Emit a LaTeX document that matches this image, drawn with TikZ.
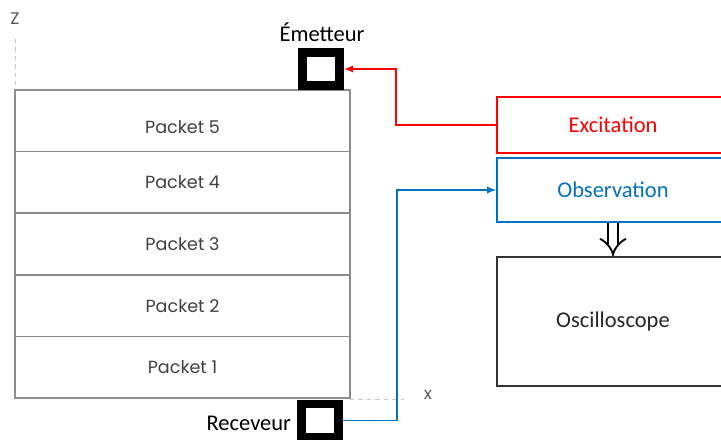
\documentclass[tikz,border=0pt]{standalone}
\usepackage{fontspec}
\setmainfont{Carlito}
\newfontfamily\gothic{Poppins}
\usetikzlibrary{arrows, positioning}
\definecolor{exred}{RGB}{255,0,0}
\definecolor{obsblue}{RGB}{0,112,192}
\definecolor{packgrey}{RGB}{140,140,140}
\tikzset{
  packet/.style={draw=packgrey, line width=1pt, minimum width=8.375cm, minimum height=1.54cm, inner sep=0, font=\gothic\fontsize{12.5}{15}\selectfont, text=black!75},
  probe/.style={draw=black, line width=6.4pt, minimum width=0.925cm, minimum height=0.825cm, inner sep=0},
  unit/.style={line width=1.2pt, minimum width=5.8cm, font=\fontsize{16}{19}\selectfont},
  axislab/.style={text=black!65, font=\gothic\fontsize{12}{14}\selectfont}
}

\begin{document}
\begin{tikzpicture}
\useasboundingbox (0,0) rectangle (18.025,10.975);

% axes
\draw[packgrey!50, dashed] (0.375,10.0) -- (0.375,8.725);
\draw[packgrey!50, dashed] (8.75,1.0) -- (10.1,1.0);
\node[axislab] (zlab) at (0.375,10.5) {Z};
\node[axislab] (xlab) at (10.7,1.1) {x};

% stack of packets
\node[packet] (p1) at (4.5625,1.795) {Packet 1};
\node[packet] (p2) at (4.5625,3.335) {Packet 2};
\node[packet] (p3) at (4.5625,4.875) {Packet 3};
\node[packet] (p4) at (4.5625,6.415) {Packet 4};
\node[packet, text height=0.62cm] (p5) at (4.5625,7.955) {Packet 5};

% transducers
\node[probe] (emit) at (8.025,9.25) {};
\node[font=\fontsize{16}{19}\selectfont] (emitlab) at (8.05,10.175) {Émetteur};
\node[probe] (recv) at (8.0,0.4625) {};
\node[font=\fontsize{16}{19}\selectfont, anchor=east] (recvlab) at (7.4,0.4) {Receveur};

% instruments
\node[unit, draw=exred, text=exred, minimum height=1.4cm] (exc) at (15.325,7.85) {Excitation};
\node[unit, draw=obsblue, text=obsblue, minimum height=1.6cm] (obs) at (15.325,6.225) {Observation};
\node[unit, draw=black!80, text=black!85, minimum height=3.225cm] (osc) at (15.325,2.9375) {Oscilloscope};

\draw[exred, line width=1.2pt, -latex] (exc.west) -- ++(-2.5,0) |- (emit.east);
\draw[obsblue, line width=1.2pt, -latex] (recv.east) -- ++(1.35,0) |- (obs.west);
\draw[black, double, double distance=5.5pt, line width=1.3pt, -implies] (obs.south) -- (osc.north);
\end{tikzpicture}
\end{document}
